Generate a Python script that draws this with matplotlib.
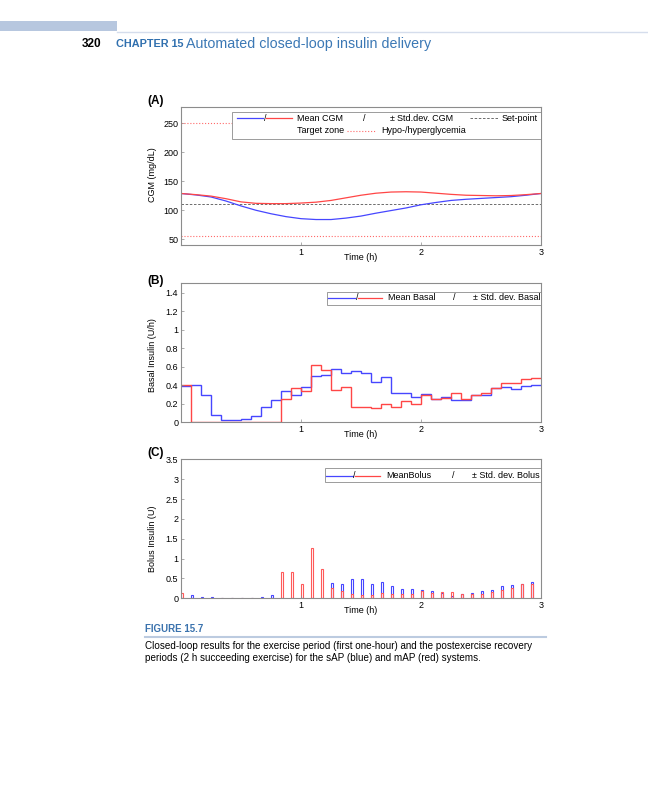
import numpy as np
import matplotlib.pyplot as plt
from matplotlib.patches import Rectangle
from matplotlib.lines import Line2D

plt.rcParams['font.family'] = ['Liberation Sans', 'DejaVu Sans']

# ---- data ----
# (A) mean CGM, mg/dL, sampled every 7.5 min
t_cgm = [0, 0.125, 0.25, 0.375, 0.5, 0.625, 0.75, 0.875, 1.0, 1.125, 1.25, 1.375,
         1.5, 1.625, 1.75, 1.875, 2.0, 2.125, 2.25, 2.375, 2.5, 2.625, 2.75, 2.875, 3.0]
cgm_sap = [129, 126.5, 123, 116, 107.5, 100, 94, 89, 85.5, 84, 84, 86.5,
           90, 95, 99.5, 104, 109.5, 113.5, 117, 119, 120.5, 122, 123.5, 126, 129]
cgm_map = [129, 127, 124.5, 120, 114.5, 112, 111.5, 111.5, 112.5, 114, 117, 121.5,
           126, 129.5, 131.5, 132, 131.5, 129.5, 127.5, 126, 125.5, 125, 125.5, 127, 129]
setpoint = 110
hypo = 55
hyper = 250

# (B) basal insulin U/h, one value per 5-min step (36 steps)
basal_sap = [0.39, 0.40, 0.30, 0.08, 0.02, 0.02, 0.04, 0.07, 0.16, 0.24, 0.34, 0.29,
             0.38, 0.50, 0.51, 0.58, 0.53, 0.55, 0.53, 0.44, 0.49, 0.32, 0.32, 0.27,
             0.31, 0.25, 0.27, 0.24, 0.24, 0.29, 0.29, 0.37, 0.38, 0.36, 0.39, 0.40]
basal_map = [0.40, 0, 0, 0, 0, 0, 0, 0, 0, 0, 0.25, 0.37,
             0.34, 0.62, 0.56, 0.35, 0.38, 0.17, 0.17, 0.15, 0.20, 0.16, 0.23, 0.20,
             0.29, 0.25, 0.26, 0.32, 0.25, 0.30, 0.32, 0.37, 0.42, 0.42, 0.47, 0.48]

# (C) bolus insulin U, one per 5-min step
bolus_sap = [0, 0.09, 0.04, 0.025, 0, 0, 0, 0.02, 0.04, 0.09, 0, 0,
             0, 0, 0, 0.38, 0.35, 0.48, 0.49, 0.35, 0.40, 0.30, 0.24, 0.24,
             0.21, 0.19, 0.13, 0.07, 0.10, 0.13, 0.18, 0.21, 0.31, 0.33, 0.35, 0.41]
bolus_map = [0.13, 0, 0, 0, 0, 0, 0, 0, 0, 0, 0.65, 0.65,
             0.35, 1.26, 0.73, 0.25, 0.18, 0.10, 0.08, 0.08, 0.13, 0.10, 0.10, 0.10,
             0.18, 0.13, 0.15, 0.16, 0.11, 0.10, 0.10, 0.16, 0.22, 0.26, 0.36, 0.36]

blue = '#4646ff'
red = '#ff4646'
grey = '#8c8c8c'
fs = 6.5

edges = np.arange(len(basal_sap) + 1) / 12
t_step = edges[:-1]


def style_axes(ax, ylabel, ly):
    ax.set_xlim(0, 3)
    ax.set_xticks([1, 2, 3])
    for s in ax.spines.values():
        s.set_color(grey)
        s.set_linewidth(0.8)
    ax.tick_params(direction='in', length=2, width=0.5, color=grey,
                   labelsize=fs, pad=2)
    ax.set_xlabel('Time (h)', fontsize=fs, va='center')
    ax.xaxis.set_label_coords(0.5, -0.09)
    ax.set_ylabel(ylabel, fontsize=fs, va='center')
    ax.yaxis.set_label_coords(-0.08, ly)


def legend_frame(ax, x0, y0, y1):
    ax.add_patch(Rectangle((x0, y0), 1 - x0, y1 - y0, transform=ax.transAxes,
                           facecolor='white', edgecolor=grey, lw=0.6, zorder=5))


def leg_line(ax, x0, x1, y, **kw):
    ax.plot([x0, x1], [y, y], transform=ax.transAxes, zorder=6, clip_on=False, **kw)


def leg_text(ax, x, y, s):
    ax.text(x, y, s, transform=ax.transAxes, fontsize=fs, va='center', zorder=6)


fig = plt.figure(figsize=(6.48, 8.0), dpi=100)

# page header
fig.patches.append(Rectangle((0, 0.96125), 0.18, 0.0125, transform=fig.transFigure,
                             facecolor='#b7c7df', edgecolor='none'))
fig.add_artist(Line2D([0.18, 1], [0.9606, 0.9606], color='#d5ddec', lw=1))
fig.text(0.126, 0.9456, '320', fontsize=8.5, fontweight='bold', va='center')
fig.text(0.179, 0.9456, 'CHAPTER 15', fontsize=7.8, fontweight='bold',
         color='#2f6fae', va='center')
fig.text(0.2875, 0.9456, 'Automated closed-loop insulin delivery', fontsize=10.3,
         color='#3b78b5', va='center')

# ---- (A) CGM ----
axA = fig.add_axes([0.2793, 0.69375, 0.5556, 0.1729])
axA.axhline(hyper, color='#ff6a6a', ls=':', lw=0.8)
axA.axhline(hypo, color='#ff6a6a', ls=':', lw=0.8)
axA.axhline(setpoint, color='#555555', ls=(0, (3, 2)), lw=0.6)
axA.plot(t_cgm, cgm_sap, color=blue, lw=0.9)
axA.plot(t_cgm, cgm_map, color=red, lw=0.9)
axA.set_ylim(40, 279)
axA.set_yticks([50, 100, 150, 200, 250])
style_axes(axA, 'CGM (mg/dL)', 0.51)

legend_frame(axA, 0.141, 0.764, 0.964)
leg_line(axA, 0.155, 0.229, 0.916, color=blue, lw=0.9)
leg_text(axA, 0.231, 0.916, '/')
leg_line(axA, 0.236, 0.308, 0.916, color=red, lw=0.9)
leg_text(axA, 0.321, 0.916, 'Mean CGM')
leg_text(axA, 0.505, 0.916, '/')
leg_text(axA, 0.581, 0.916, '±')
leg_text(axA, 0.599, 0.916, 'Std.dev. CGM')
leg_line(axA, 0.803, 0.881, 0.916, color='#555555', ls=(0, (3, 2)), lw=0.6)
leg_text(axA, 0.889, 0.916, 'Set-point')
leg_text(axA, 0.321, 0.827, 'Target zone')
leg_line(axA, 0.460, 0.539, 0.827, color='#ff6a6a', ls=':', lw=0.8)
leg_text(axA, 0.555, 0.827, 'Hypo-/hyperglycemia')

# ---- (B) basal ----
axB = fig.add_axes([0.2793, 0.4721, 0.5556, 0.17375])
axB.stairs(basal_sap, edges, baseline=None, color=blue, lw=1)
axB.stairs(basal_map, edges, baseline=None, color=red, lw=1)
axB.set_ylim(0, 1.5)
axB.set_yticks([0, 0.2, 0.4, 0.6, 0.8, 1, 1.2, 1.4])
axB.set_yticklabels(['0', '0.2', '0.4', '0.6', '0.8', '1', '1.2', '1.4'])
style_axes(axB, 'Basal Insulin (U/h)', 0.485)

legend_frame(axB, 0.405, 0.842, 0.940)
leg_line(axB, 0.409, 0.483, 0.896, color=blue, lw=0.9)
leg_text(axB, 0.486, 0.896, '/')
leg_line(axB, 0.492, 0.558, 0.896, color=red, lw=0.9)
leg_text(axB, 0.576, 0.896, 'Mean Basal')
leg_text(axB, 0.756, 0.896, '/')
leg_text(axB, 0.812, 0.896, '± Std. dev. Basal')

# ---- (C) bolus ----
axC = fig.add_axes([0.2793, 0.25213, 0.5556, 0.17375])
axC.bar(t_step, bolus_sap, width=0.02, align='edge', facecolor='none',
        edgecolor=blue, lw=0.8)
axC.bar(t_step, bolus_map, width=0.02, align='edge', facecolor='none',
        edgecolor='#ff5a5a', lw=0.8)
axC.set_ylim(0, 3.5)
axC.set_yticks([0, 0.5, 1, 1.5, 2, 2.5, 3, 3.5])
axC.set_yticklabels(['0', '0.5', '1', '1.5', '2', '2.5', '3', '3.5'])
style_axes(axC, 'Bolus Insulin (U)', 0.43)

legend_frame(axC, 0.400, 0.835, 0.935)
leg_line(axC, 0.403, 0.477, 0.882, color=blue, lw=0.9)
leg_text(axC, 0.479, 0.882, '/')
leg_line(axC, 0.483, 0.553, 0.882, color=red, lw=0.9)
leg_text(axC, 0.571, 0.882, 'MeanBolus')
leg_text(axC, 0.752, 0.882, '/')
leg_text(axC, 0.808, 0.882, '± Std. dev. Bolus')

# panel letters
for lab, y in [('(A)', 101), ('(B)', 281), ('(C)', 453)]:
    fig.text(147 / 648, 1 - y / 800, lab, fontsize=8.5, fontweight='bold',
             ha='left', va='center')

# caption
fig.text(0.2238, 0.2138, 'FIGURE 15.7', fontsize=7, fontweight='bold',
         color='#3a72ad', va='center')
fig.add_artist(Line2D([0.2238, 0.8426], [0.2038, 0.2038], color='#bccbe0', lw=1.5))
fig.text(0.2238, 0.1925, 'Closed-loop results for the exercise period (first one-hour) '
         'and the postexercise recovery', fontsize=7.1, va='center')
fig.text(0.2238, 0.1779, 'periods (2 h succeeding exercise) for the sAP (blue) and '
         'mAP (red) systems.', fontsize=7.1, va='center')

fig.savefig('out.png', dpi=100)
